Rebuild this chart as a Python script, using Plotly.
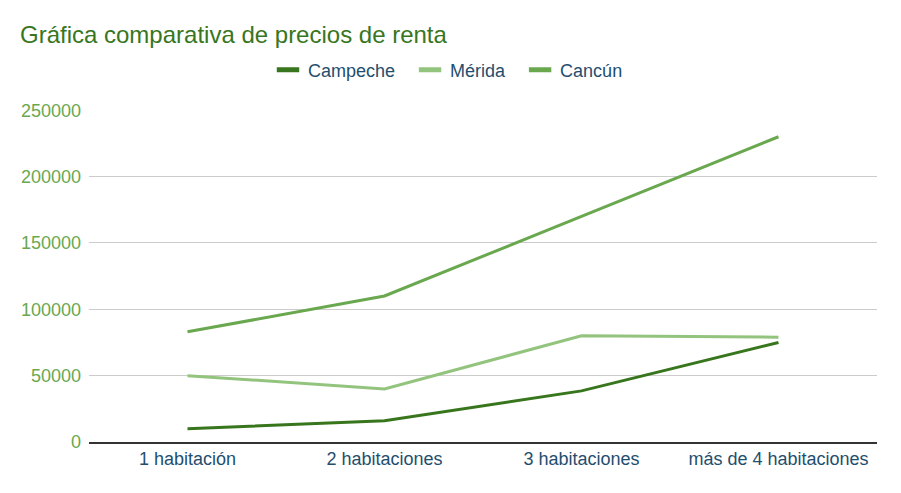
import plotly.graph_objects as go

categories = ["1 habitación", "2 habitaciones", "3 habitaciones", "más de 4 habitaciones"]
campeche = [10000, 16000, 38500, 75000]
merida = [50000, 40000, 80000, 79000]
cancun = [83000, 110000, 170000, 230000]
y_ticks = [0, 50000, 100000, 150000, 200000, 250000]

series = [("Campeche", campeche, "#38761d"),
          ("Mérida", merida, "#93c47d"),
          ("Cancún", cancun, "#6aa84f")]

# page offset compensation (body margin of 8px)
OFF = 8
W, H = 901 - OFF, 493 - OFF

fig = go.Figure()
for name, vals, col in series:
    fig.add_trace(go.Scatter(x=categories, y=vals, mode="lines", name=name,
                             line=dict(color=col, width=3), showlegend=False))
for i, (name, vals, col) in enumerate(series):
    pad = "\u00a0\u00a0" if i < len(series) - 1 else ""
    fig.add_trace(go.Scatter(x=[None], y=[None], mode="markers", name=name + pad,
                             marker=dict(symbol="line-ew", size=18,
                                         line=dict(color=col, width=5))))

fig.update_layout(
    width=W, height=H,
    margin=dict(l=89 - OFF, r=24, t=106 - OFF, b=51),
    paper_bgcolor="white", plot_bgcolor="white",
    font=dict(family="Liberation Sans, Arial, sans-serif"),
    title=dict(text="Gráfica comparativa de precios de renta",
               x=(20 - OFF) / W, xref="container", xanchor="left",
               y=1 - (35 - OFF) / H, yref="container", yanchor="middle",
               font=dict(size=24, color="#38761d")),
    legend=dict(orientation="h", xref="container", x=(448 - OFF) / W, xanchor="center",
                yref="container", y=1 - (70 - OFF) / H, yanchor="middle",
                font=dict(size=18, color="#1f4e6e"), itemwidth=30),
    xaxis=dict(range=[-0.5, 3.5], showgrid=False, showline=True,
               linecolor="#333333", linewidth=1.5, ticks="",
               tickfont=dict(size=18, color="#1f4e6e")),
    yaxis=dict(range=[0, 250000], tickvals=y_ticks,
               ticktext=[str(v) for v in y_ticks],
               showgrid=True, gridcolor="#cccccc", gridwidth=1,
               zeroline=False, ticks="", ticklabelstandoff=7,
               tickfont=dict(size=18, color="#6aa84f")),
)
fig.write_html("out.html")
